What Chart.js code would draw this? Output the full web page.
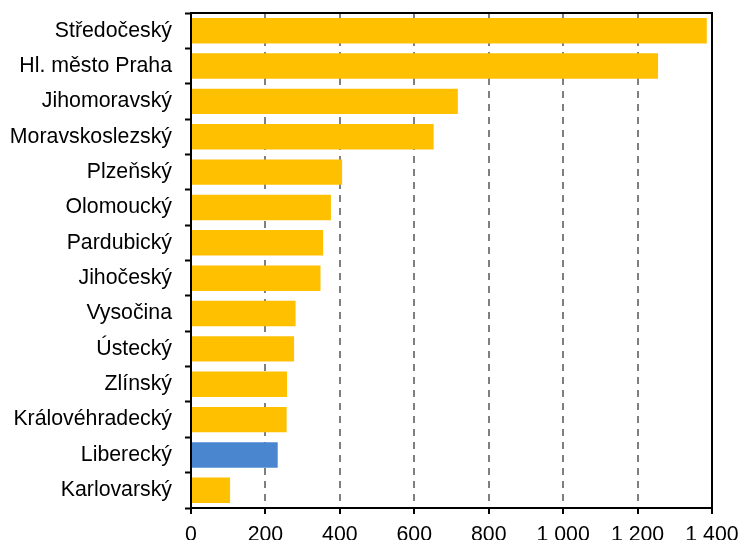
<!DOCTYPE html>
<html>
<head>
<meta charset="utf-8">
<script src="https://cdn.jsdelivr.net/npm/chart.js@4.4.1/dist/chart.umd.min.js"></script>
<style>
  html, body { margin: 0; padding: 0; background: #fff; }
  #wrap { width: 740px; height: 540px; position: relative; }
</style>
</head>
<body>
<div id="wrap"><canvas id="c"></canvas></div>
<script>
const categories = ["Středočeský","Hl. město Praha","Jihomoravský","Moravskoslezský","Plzeňský","Olomoucký","Pardubický","Jihočeský","Vysočina","Ústecký","Zlínský","Královéhradecký","Liberecký","Karlovarský"];
const values = [1386, 1255, 717, 652, 406, 376, 355, 348, 281, 277, 258, 257, 233, 105];
const highlighted = "Liberecký";
const xMin = 0, xMax = 1400, xStep = 200;

const YELLOW = "#FFC000";
const BLUE = "#4A86CF";

function fmt(v) {
  return String(v).replace(/\B(?=(\d{3})+(?!\d))/g, " ");
}

const framePlugin = {
  id: "frame",
  afterDraw(chart) {
    const a = chart.chartArea, ctx = chart.ctx;
    ctx.save();
    ctx.strokeStyle = "#000";
    ctx.lineWidth = 2;
    ctx.strokeRect(a.left, a.top, a.right - a.left, a.bottom - a.top);
    ctx.restore();
  }
};

new Chart(document.getElementById("c"), {
  type: "bar",
  data: {
    labels: categories,
    datasets: [{
      data: values,
      backgroundColor: categories.map(c => c === highlighted ? BLUE : YELLOW),
      borderWidth: 0,
      categoryPercentage: 1.0,
      barPercentage: 0.72
    }]
  },
  options: {
    indexAxis: "y",
    responsive: true,
    maintainAspectRatio: false,
    animation: false,
    layout: { padding: 0 },
    plugins: { legend: { display: false }, tooltip: { enabled: false } },
    scales: {
      x: {
        min: xMin, max: xMax,
        afterFit(scale) {
          scale.height = 32;
          scale.paddingRight = 28;
          scale.paddingLeft = 0;
        },
        ticks: {
          stepSize: xStep,
          padding: 8,
          color: "#000",
          font: { family: "'Liberation Sans', Arial, sans-serif", size: 21.3 },
          maxRotation: 0,
          callback: v => fmt(v)
        },
        grid: {
          color: "#7f7f7f",
          lineWidth: 2,
          drawTicks: true,
          tickLength: 6,
          tickColor: "#000",
          tickWidth: 2,
          tickBorderDash: []
        },
        border: { display: true, color: "#000", width: 2, dash: [7, 6] }
      },
      y: {
        afterFit(scale) {
          scale.width = 191;
          scale.paddingTop = 13;
          scale.paddingBottom = 0;
        },
        ticks: {
          padding: 13,
          color: "#000",
          font: { family: "'Liberation Sans', Arial, sans-serif", size: 21.3 },
          autoSkip: false
        },
        grid: {
          offset: true,
          drawOnChartArea: false,
          tickLength: 6,
          tickColor: "#000",
          tickWidth: 2,
          color: "#000"
        },
        border: { display: true, color: "#000", width: 2 }
      }
    }
  },
  plugins: [framePlugin]
});
</script>
</body>
</html>
